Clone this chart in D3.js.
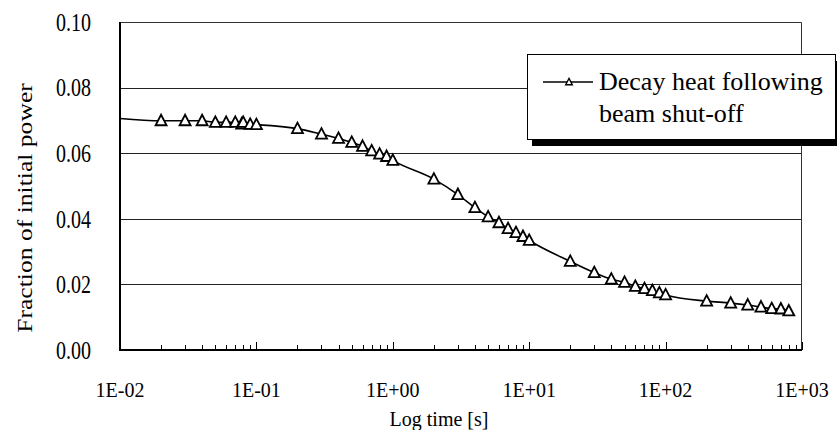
<!DOCTYPE html>
<html>
<head>
<meta charset="utf-8">
<script src="https://cdn.jsdelivr.net/npm/d3@7"></script>
<style>
  html, body { margin: 0; padding: 0; background: #fff; }
</style>
</head>
<body>
<div id="chart"></div>
<script>
// time after shut-off [s] and fraction of initial power
const times = [0.01, 0.02, 0.03, 0.04, 0.05, 0.06, 0.07, 0.078, 0.08, 0.09, 0.1,
  0.2, 0.3, 0.4, 0.5, 0.6, 0.7, 0.8, 0.9, 1,
  2, 3, 4, 5, 6, 7, 8, 9, 10,
  20, 30, 40, 50, 60, 70, 80, 90, 100,
  200, 300, 400, 500, 600, 700, 800];
const fractions = [0.0706, 0.0699, 0.0699, 0.0699, 0.0694, 0.0694, 0.0694, 0.0689, 0.0694, 0.0688, 0.0687,
  0.0675, 0.0658, 0.0645, 0.0633, 0.0621, 0.0607, 0.0597, 0.0590, 0.0578,
  0.0521, 0.0474, 0.0434, 0.0406, 0.0388, 0.0370, 0.0358, 0.0346, 0.0334,
  0.0270, 0.0236, 0.0216, 0.0206, 0.0194, 0.0187, 0.0181, 0.0174, 0.0168,
  0.0149, 0.0143, 0.0137, 0.0131, 0.0126, 0.0125, 0.0119];
const yTicks = [0, 0.02, 0.04, 0.06, 0.08, 0.1];
const xDecades = [0.01, 0.1, 1, 10, 100, 1000];
const seriesName = ['Decay heat following', 'beam shut-off'];

const FONT = '"Liberation Serif", "Times New Roman", serif';
const W = 837, H = 430;
const margin = { top: 22, right: 35, bottom: 80, left: 120 };
const iw = W - margin.left - margin.right;
const ih = H - margin.top - margin.bottom;

const data = times.map((t, i) => ({ t, v: fractions[i] }));

const x = d3.scaleLog().domain([0.01, 1000]).range([0, iw]);
const y = d3.scaleLinear().domain([0, 0.1]).range([ih, 0]);

const svg = d3.select('#chart').append('svg').attr('width', W).attr('height', H)
  .style('display', 'block');
const g = svg.append('g').attr('transform', `translate(${margin.left},${margin.top})`);

// horizontal gridlines
g.selectAll('.grid')
  .data(yTicks.filter((d) => d > 0 && d < 0.1))
  .join('line')
  .attr('x1', 0)
  .attr('x2', iw)
  .attr('y1', (d) => Math.round(y(d)) + 0.5)
  .attr('y2', (d) => Math.round(y(d)) + 0.5)
  .attr('stroke', '#222')
  .attr('stroke-width', 1);

// thin frame on top and right
g.append('path')
  .attr('d', `M0,0.5H${iw - 0.5}V${ih}`)
  .attr('fill', 'none')
  .attr('stroke', '#333')
  .attr('stroke-width', 1);

// x ticks: minor (2..9) and decades, pointing inward
const minor = [];
xDecades.slice(0, -1).forEach((d) => {
  for (let k = 2; k <= 9; k++) minor.push(d * k);
});
g.selectAll('.xminor')
  .data(minor)
  .join('line')
  .attr('x1', (d) => Math.round(x(d)) + 0.5)
  .attr('x2', (d) => Math.round(x(d)) + 0.5)
  .attr('y1', ih)
  .attr('y2', ih - 5)
  .attr('stroke', '#000');
g.selectAll('.xmajor')
  .data(xDecades)
  .join('line')
  .attr('x1', (d) => Math.round(x(d)) + 0.5)
  .attr('x2', (d) => Math.round(x(d)) + 0.5)
  .attr('y1', ih)
  .attr('y2', ih - 8)
  .attr('stroke', '#000');

// axis lines (thicker)
g.append('line').attr('x1', 0).attr('x2', 0).attr('y1', 0).attr('y2', ih + 1)
  .attr('stroke', '#000').attr('stroke-width', 2);
g.append('line').attr('x1', -1).attr('x2', iw).attr('y1', ih).attr('y2', ih)
  .attr('stroke', '#000').attr('stroke-width', 2);

// y tick labels (drawn taller than wide, as in the original)
g.selectAll('.ylab')
  .data(yTicks)
  .join('text')
  .attr('transform', (d) => `translate(-29,${y(d)}) scale(1,1.25)`)
  .attr('dy', '0.35em')
  .attr('text-anchor', 'end')
  .attr('font-family', FONT)
  .attr('font-size', 20)
  .attr('fill', '#000')
  .text((d) => d.toFixed(2));

const fmtE = (d) => {
  const e = Math.round(Math.log10(d));
  return `1E${e < 0 ? '-' : '+'}${String(Math.abs(e)).padStart(2, '0')}`;
};
g.selectAll('.xlab')
  .data(xDecades)
  .join('text')
  .attr('x', (d) => x(d))
  .attr('y', ih + 47)
  .attr('text-anchor', 'middle')
  .attr('font-family', FONT)
  .attr('font-size', 20)
  .attr('fill', '#000')
  .text(fmtE);

// axis titles
svg.append('text')
  .attr('x', 439)
  .attr('y', 426)
  .attr('text-anchor', 'middle')
  .attr('font-family', FONT)
  .attr('font-size', 20)
  .text('Log time [s]');
svg.append('text')
  .attr('transform', 'translate(32,208) rotate(-90) scale(1.28,1)')
  .attr('text-anchor', 'middle')
  .attr('font-family', FONT)
  .attr('font-size', 20)
  .text('Fraction of initial power');

// series line
const line = d3.line()
  .x((d) => x(d.t))
  .y((d) => y(d.v))
  .curve(d3.curveMonotoneX);
g.append('path')
  .datum(data)
  .attr('d', line)
  .attr('fill', 'none')
  .attr('stroke', '#000')
  .attr('stroke-width', 1.6);

// triangle markers (first point has none)
const tri = (s) => `M0,${-s * 0.6}L${s * 0.55},${s * 0.45}L${-s * 0.55},${s * 0.45}Z`;
g.selectAll('.marker')
  .data(data.slice(1))
  .join('path')
  .attr('d', tri(10))
  .attr('transform', (d) => `translate(${x(d.t)},${y(d.v)})`)
  .attr('fill', '#fff')
  .attr('stroke', '#000')
  .attr('stroke-width', 1.8);

// legend with drop shadow
const lg = svg.append('g').attr('transform', 'translate(527,54)');
lg.append('rect').attr('x', 5).attr('y', 7).attr('width', 308).attr('height', 85).attr('fill', '#000');
lg.append('rect').attr('x', 0.5).attr('y', 0.5).attr('width', 308).attr('height', 85)
  .attr('fill', '#fff').attr('stroke', '#000').attr('stroke-width', 1);
lg.append('line').attr('x1', 16).attr('x2', 66).attr('y1', 28).attr('y2', 28)
  .attr('stroke', '#000').attr('stroke-width', 1.6);
lg.append('path').attr('d', tri(6)).attr('transform', 'translate(42,28)')
  .attr('fill', '#fff').attr('stroke', '#000').attr('stroke-width', 1.4);
lg.selectAll('.legtext')
  .data(seriesName)
  .join('text')
  .attr('x', 72)
  .attr('y', (d, i) => 36 + i * 31.5)
  .attr('font-family', FONT)
  .attr('font-size', 26)
  .attr('fill', '#000')
  .text((d) => d);
</script>
</body>
</html>
